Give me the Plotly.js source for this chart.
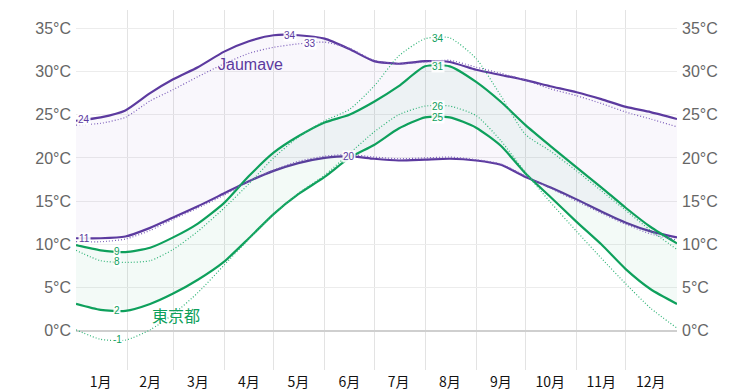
<!DOCTYPE html>
<html><head><meta charset="utf-8">
<script src="https://cdn.plot.ly/plotly-3.0.1.min.js"></script>
<style>html,body{margin:0;padding:0;background:#fff}#chart{width:753px;height:392px}</style>
</head><body><div id="chart"></div>
<script>
// Day of year for each sample
const days = [0,15,30,45,59,74,90,105,120,135,151,166,181,196,212,227,243,258,273,288,304,319,334,349,365];

// Jaumave
const jaumaveHigh    = [24.3,24.7,25.5,27.5,29.1,30.5,32.3,33.5,34.2,34.2,33.8,32.6,31.2,30.9,31.2,31.1,30.2,29.6,29.0,28.3,27.6,26.8,25.9,25.3,24.5];
const jaumaveHighAlt = [23.8,24.0,24.7,26.6,27.9,29.4,30.9,32.1,32.8,33.2,33.4,32.7,31.3,30.9,31.1,31.3,30.5,29.8,29.0,28.0,27.2,26.3,25.3,24.5,23.6];
const jaumaveLow     = [10.7,10.7,10.9,11.9,13.1,14.4,15.9,17.3,18.5,19.4,20.0,20.2,19.9,19.7,19.8,19.9,19.7,19.2,17.8,16.6,15.2,13.8,12.5,11.5,10.8];
const jaumaveLowAlt  = [10.3,10.3,10.6,11.6,12.9,14.2,15.7,17.3,18.6,19.6,20.2,20.4,20.1,19.9,20.0,20.1,19.8,19.3,17.9,16.5,15.0,13.6,12.3,11.2,10.5];

// 東京都
const tokyoHigh    = [9.9,9.3,9.1,9.6,10.8,12.4,14.8,17.9,20.6,22.5,24.1,25.0,26.5,28.3,30.6,30.6,28.8,26.5,23.8,21.4,18.9,16.6,14.2,12.0,10.1];
const tokyoHighAlt = [9.3,8.1,7.9,8.1,9.4,11.5,14.2,17.0,20.0,22.4,24.3,25.6,28.3,31.8,33.8,33.9,31.5,27.2,22.7,20.8,18.5,16.2,13.9,11.6,9.4];
const tokyoLow     = [3.1,2.4,2.3,3.1,4.3,5.9,8.0,10.7,13.5,15.8,17.8,20.0,21.5,23.4,24.7,24.7,23.5,21.4,18.2,15.5,12.6,10.0,7.1,4.8,3.1];
const tokyoLowAlt  = [0.1,-1.0,-1.1,0.1,1.9,4.4,7.6,10.6,13.5,15.9,18.0,20.5,23.0,25.0,26.0,26.0,24.9,22.0,18.3,14.9,11.5,8.4,5.4,2.6,0.3];

// Axis labels
const monthLabels = ['1月','2月','3月','4月','5月','6月','7月','8月','9月','10月','11月','12月'];
const monthMid    = [15,45,74,105,135,166,196,227,258,288,319,349];
const monthStart  = [31,59,90,120,151,181,212,243,273,304,334];
const tempTicks   = [0,5,10,15,20,25,30,35];
const tempLabels  = tempTicks.map(v => v + '°C');

const PURPLE = '#5c3a9f', PURPLE_L = '#7d5fbb';
const GREEN = '#0ea05c', GREEN_L = '#30b478';
const FONT = 'Liberation Sans, Arial, Helvetica, sans-serif';

function line(y, color, width, dash, fill, fillcolor){
  return {x: days, y: y, type:'scatter', mode:'lines',
    line:{color:color, width:width, dash:dash||'solid', shape:'spline', smoothing:0.6},
    fill: fill||'none', fillcolor: fillcolor, hoverinfo:'skip', showlegend:false};
}
const DOT = '1px,2px';
const traces = [
  line(jaumaveLow, PURPLE, 2.2),
  line(jaumaveHigh, PURPLE, 2.2, 'solid', 'tonexty', 'rgba(110,70,180,0.045)'),
  line(tokyoLow, GREEN, 2.2),
  line(tokyoHigh, GREEN, 2.2, 'solid', 'tonexty', 'rgba(20,160,100,0.05)'),
  line(jaumaveHighAlt, PURPLE_L, 1.2, DOT),
  line(jaumaveLowAlt, PURPLE_L, 1.2, DOT),
  line(tokyoHighAlt, GREEN_L, 1.2, DOT),
  line(tokyoLowAlt, GREEN_L, 1.2, DOT),
  {x:[0], y:[null], yaxis:'y2', type:'scatter', mode:'lines', hoverinfo:'skip', showlegend:false}
];

function interp(arr, d){
  for(let i=0;i<days.length-1;i++){
    if(d>=days[i] && d<=days[i+1]){
      const t=(d-days[i])/(days[i+1]-days[i]);
      return arr[i]+(arr[i+1]-arr[i])*t;
    }
  }
  return arr[arr.length-1];
}
function lab(arr, d, color){
  const v = interp(arr, d);
  return {x:d, y:v, text:String(Math.round(v)), showarrow:false,
    font:{family:FONT, size:10, color:color},
    bgcolor:'rgba(255,255,255,0.9)', borderpad:0, xanchor:'center', yanchor:'middle'};
}
const annotations = [
  lab(jaumaveHigh, 5, PURPLE),
  lab(jaumaveLow, 5, PURPLE),
  lab(tokyoHigh, 25, GREEN),
  lab(tokyoHighAlt, 25, GREEN),
  lab(tokyoLow, 25, GREEN),
  lab(tokyoLowAlt, 25, GREEN),
  lab(jaumaveHigh, 130, PURPLE),
  lab(jaumaveHighAlt, 142, PURPLE),
  lab(jaumaveLow, 166, PURPLE),
  lab(tokyoHighAlt, 220, GREEN),
  lab(tokyoHigh, 220, GREEN),
  lab(tokyoLowAlt, 220, GREEN),
  lab(tokyoLow, 220, GREEN),
  {x:106, y:30.8, text:'Jaumave', showarrow:false, font:{family:FONT, size:16, color:PURPLE}},
  {x:61, y:1.85, text:'東京都', showarrow:false, font:{family:'Noto Sans CJK JP, sans-serif', size:16, color:GREEN}}
];

const yRange = [-4.55, 37.12];
const yCommon = {range:yRange, tickmode:'array', tickvals:tempTicks, ticktext:tempLabels,
  tickfont:{family:FONT, size:16, color:'#666'}, ticks:'', fixedrange:true};

const layout = {
  width:753, height:392,
  margin:{l:76, r:76, t:10, b:22},
  paper_bgcolor:'#fff', plot_bgcolor:'#fff',
  xaxis:{range:[0,365], tickmode:'array', tickvals:monthMid, ticktext:monthLabels,
    showgrid:false, zeroline:false, ticks:'', ticklabelstandoff:2,
    tickfont:{family:'Noto Sans CJK JP, sans-serif', size:14, color:'#111'},
    minor:{tickmode:'array', tickvals:monthStart, showgrid:true, gridcolor:'#e3e3e3', gridwidth:1, ticks:''}},
  yaxis: Object.assign({}, yCommon, {side:'left', showgrid:true, gridcolor:'#ececec', gridwidth:1,
    zeroline:true, zerolinecolor:'#cfcfcf', zerolinewidth:2, ticklabelstandoff:4}),
  yaxis2: Object.assign({}, yCommon, {side:'right', overlaying:'y', showgrid:false, zeroline:false, ticklabelstandoff:4}),
  annotations: annotations,
  showlegend:false, hovermode:false
};
Plotly.newPlot('chart', traces, layout, {staticPlot:true, displayModeBar:false});
</script></body></html>
